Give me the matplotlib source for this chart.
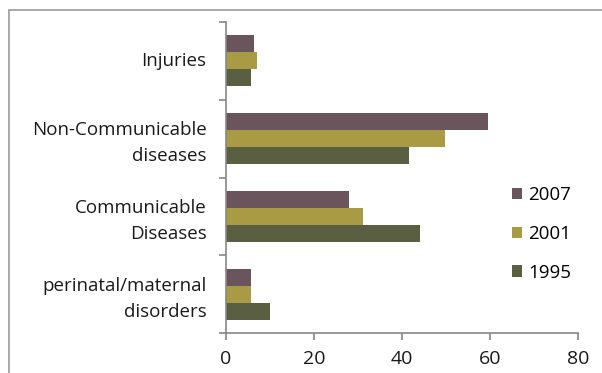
import numpy as np
import matplotlib
matplotlib.use('Agg')
import matplotlib.pyplot as plt
from matplotlib.patches import Rectangle

plt.rcParams['font.family'] = ['Open Sans', 'DejaVu Sans']

# causes, bottom to top as drawn
causes = ['perinatal/maternal\ndisorders', 'Communicable\nDiseases',
          'Non-Communicable\ndiseases', 'Injuries']
years = ['2007', '2001', '1995']
v2007 = [5.8, 28.0, 59.5, 6.4]
v2001 = [5.8, 31.1, 49.9, 7.1]
v1995 = [9.9, 44.2, 41.7, 5.7]
colors = ['#69555b', '#a99b44', '#5b5f42']

fig = plt.figure(figsize=(6.02, 3.73), dpi=100)
# outer chart border (right and bottom run off the edge)
fig.patches.append(Rectangle((9/602, -0.1), 1.2, 1 - 10/373 + 0.1,
                             transform=fig.transFigure, fill=False,
                             edgecolor='#999999', linewidth=1.2))
ax = fig.add_axes([226/602, 1 - 333/373, (577.7 - 226)/602, (333 - 22)/373])

h = 0.218
y = np.arange(len(causes))
for i, (vals, lab, c) in enumerate(zip([v2007, v2001, v1995], years, colors)):
    ax.barh(y + (1 - i) * h, vals, height=h, color=c, label=lab)

ax.set_xlim(0, 80)
ax.set_ylim(-0.5, len(causes) - 0.5)
ax.set_xticks([0, 20, 40, 60, 80])
ax.set_yticks(np.arange(len(causes) + 1) - 0.5)
ax.set_yticklabels([])
ax.set_yticks(y + 0.02, minor=True)
ax.set_yticklabels(causes, minor=True, ha='right', multialignment='right',
                   linespacing=1.6)
ax.tick_params(axis='y', which='minor', length=0, pad=14, labelsize=13.5, colors='#1a1a1a')
ax.tick_params(axis='y', which='major', length=5, color='#888888', width=1.2)
ax.tick_params(axis='x', length=5, color='#888888', width=1.2, labelsize=14,
               labelcolor='#1a1a1a', pad=7.5)
for s in ['top', 'right']:
    ax.spines[s].set_visible(False)
for s in ['left', 'bottom']:
    ax.spines[s].set_color('#888888')
    ax.spines[s].set_linewidth(1.2)

ax.legend(loc='center left', bbox_to_anchor=(0.765, 0.318), frameon=False,
          fontsize=13.5, handlelength=0.55, handleheight=0.55, handletextpad=0.3,
          labelspacing=1.1)

fig.savefig('out.png', dpi=100)
